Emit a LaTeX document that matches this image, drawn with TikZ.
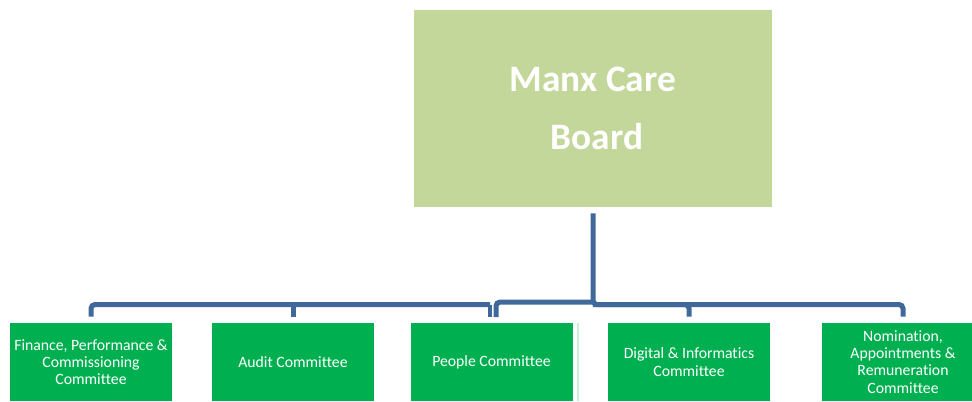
\documentclass[tikz,border=0pt]{standalone}
\usepackage{fontspec}
\setmainfont[Ligatures=NoCommon]{Carlito}
\definecolor{boardgreen}{HTML}{C4D79B}
\definecolor{unitgreen}{HTML}{00B050}
\definecolor{linkblue}{RGB}{65,104,155}
\definecolor{mint}{HTML}{C9EEDA}
\tikzset{
  board/.style={fill=boardgreen, draw=none, minimum width=268.5pt, minimum height=147.75pt,
    text=white, align=center, font=\fontsize{28}{43}\selectfont\bfseries},
  unit/.style={fill=unitgreen, draw=none, minimum width=121.5pt, minimum height=58.5pt,
    text=white, align=center, inner sep=0pt, font=\fontsize{11.8}{12.9}\selectfont},
  conn/.style={draw=linkblue, line width=3.75pt, rounded corners=3pt},
  twin/.style={draw=linkblue, line width=2.8pt},
}
\begin{document}
\begin{tikzpicture}[x=0.75pt, y=-0.75pt]
\useasboundingbox (0,0) rectangle (972,401);
\clip (0,0) rectangle (972,401);

% board and committees
\node[board] (board) at (593,108.5) {Manx Care\\\hspace*{6pt}Board};
\node[unit] (c1) at (91,362)  {Finance, Performance \&\\Commissioning\\Committee};
\node[unit] (c2) at (293,362) {Audit Committee};
\node[unit] (c3) at (491.5,362) {People Committee};
\node[unit] (c4) at (689,362) {Digital \& Informatics\\Committee};
\node[unit] (c5) at (903,362) {Nomination,\\Appointments \&\\Remuneration\\Committee};

% thin separator beside the People box
\draw[mint, line width=0.8pt] (578,323) -- (578,401);

% junction points of the connector tree
\coordinate (top) at ([yshift=-4.5pt]board.south);
\coordinate (hub) at (top |- 0,304.5);
\coordinate (midR) at (top |- 0,302);
\coordinate (barL) at (490,304.5);
\coordinate (d1) at ([yshift=4.5pt]c1.north);
\coordinate (d2) at ([yshift=4.5pt]c2.north);
\coordinate (d3a) at (490,317);
\coordinate (d3b) at (496,317);
\coordinate (d4) at ([yshift=4.5pt]c4.north);
\coordinate (d5) at ([yshift=4.5pt]c5.north);

% connectors
\draw[conn] (top) -- (hub) -| (d4);
\draw[conn] (hub) -| (d5);
\draw[conn] (midR) -| (d3b);
\draw[conn] (d1) |- (barL);
\draw[twin] (barL) -- (d3a);
\draw[conn] (d2) -- (d2 |- barL);
\end{tikzpicture}
\end{document}
